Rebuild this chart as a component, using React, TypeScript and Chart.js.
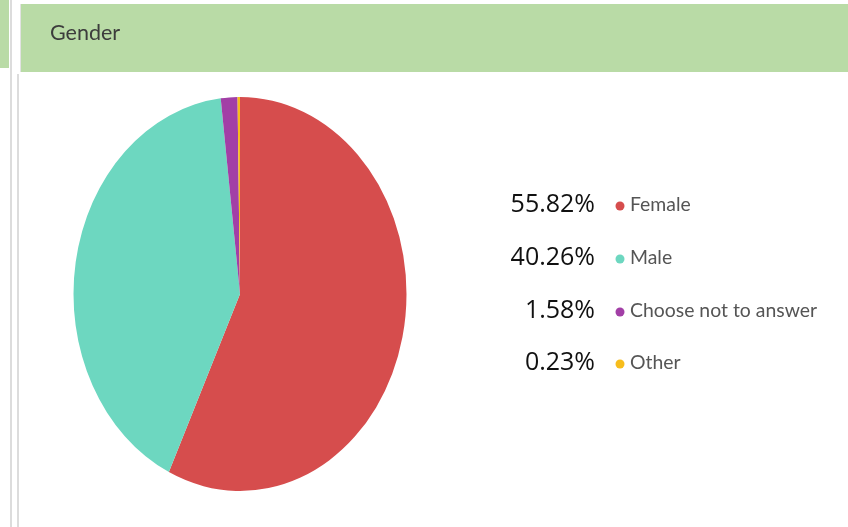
import React, { useEffect, useRef } from "react";
import { Chart, registerables } from "chart.js";

Chart.register(...registerables);

const title = "Gender";
const categories = ["Female", "Male", "Choose not to answer", "Other"];
const percentages = [55.82, 40.26, 1.58, 0.23];
const colors = ["#d64d4d", "#6dd7c0", "#a23fa6", "#f7bd1c"];

const Y_SCALE = 1.183;

export default function App() {
  const ref = useRef<HTMLCanvasElement | null>(null);

  useEffect(() => {
    document.body.style.margin = "0";
    const canvas = ref.current!;

    const framePlugin = {
      id: "frame",
      beforeDraw(chart: any) {
        const ctx = chart.ctx as CanvasRenderingContext2D;
        ctx.save();
        ctx.fillStyle = "#ffffff";
        ctx.fillRect(0, 0, chart.width, chart.height);
        ctx.fillStyle = "#b9dba6";
        ctx.fillRect(0, 0, 9, 68);
        ctx.fillStyle = "#dcdcdc";
        ctx.fillRect(10, 0, 2, chart.height);
        ctx.fillRect(17, 74, 2, chart.height - 74);
        ctx.fillStyle = "#b9dba6";
        ctx.fillRect(20, 4, chart.width - 20, 68);
        ctx.fillStyle = "#e2e2e2";
        ctx.fillRect(20, 4, 1, 68);
        ctx.fillStyle = "#3c3c3c";
        ctx.font = "21.5px Lato, 'Open Sans', sans-serif";
        ctx.textBaseline = "middle";
        ctx.textAlign = "left";
        ctx.fillText(title, 50, 33);
        ctx.restore();
      },
      beforeDatasetsDraw(chart: any) {
        const ctx = chart.ctx as CanvasRenderingContext2D;
        const a = chart.chartArea;
        const cy = (a.top + a.bottom) / 2;
        ctx.save();
        ctx.translate(0, cy);
        ctx.scale(1, Y_SCALE);
        ctx.translate(0, -cy);
      },
      afterDatasetsDraw(chart: any) {
        chart.ctx.restore();
      },
      afterDraw(chart: any) {
        const ctx = chart.ctx as CanvasRenderingContext2D;
        ctx.save();
        const rowY = [205, 258, 311, 363];
        categories.forEach((c, i) => {
          const y = rowY[i];
          ctx.fillStyle = "#111111";
          ctx.font = "25px 'Open Sans', 'Liberation Sans', sans-serif";
          ctx.textAlign = "right";
          ctx.textBaseline = "middle";
          ctx.fillText(percentages[i].toFixed(2) + "%", 595, y);
          ctx.beginPath();
          ctx.arc(620, y + 1, 4.5, 0, Math.PI * 2);
          ctx.fillStyle = colors[i];
          ctx.fill();
          ctx.fillStyle = "#555555";
          ctx.font = "19.4px Lato, 'Open Sans', sans-serif";
          ctx.textAlign = "left";
          ctx.fillText(c, 630, y);
        });
        ctx.restore();
      },
    };

    const chart = new Chart(canvas, {
      type: "pie",
      data: {
        labels: categories,
        datasets: [
          {
            data: percentages,
            backgroundColor: colors,
            borderWidth: 0,
          },
        ],
      },
      options: {
        responsive: false,
        animation: false,
        layout: { padding: { left: 73.5, right: 441.5, top: 127.5, bottom: 66.5 } },
        plugins: {
          legend: { display: false },
          tooltip: { enabled: false },
        },
      },
      plugins: [framePlugin],
    });
    return () => chart.destroy();
  }, []);

  return (
    <div style={{ position: "absolute", left: 0, top: 0, width: 848, height: 527 }}>
      <canvas ref={ref} width={848} height={527} style={{ display: "block" }} />
    </div>
  );
}
